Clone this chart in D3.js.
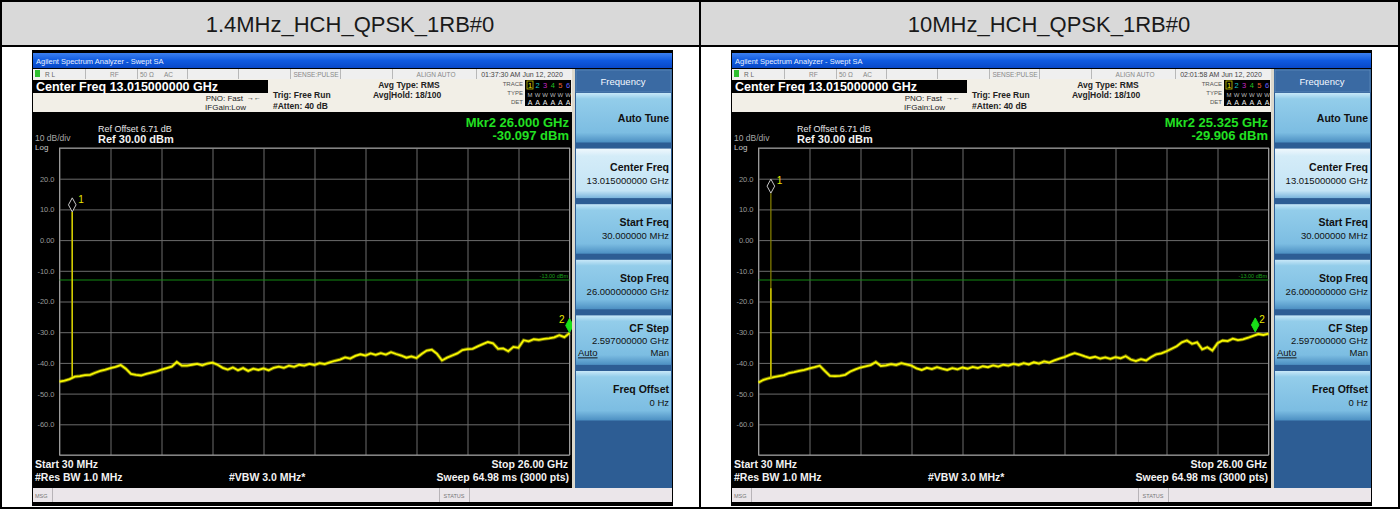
<!DOCTYPE html>
<html>
<head>
<meta charset="utf-8">
<script src="https://cdn.jsdelivr.net/npm/d3@7"></script>
<style>
body { margin: 0; background: #fff; }
text { font-family: "Liberation Sans", Arial, sans-serif; }
</style>
</head>
<body>
<script>
// ---- data ----
var panelTitles = ["1.4MHz_HCH_QPSK_1RB#0", "10MHz_HCH_QPSK_1RB#0"];
var timeStamps = ["01:37:30 AM Jun 12, 2020", "02:01:58 AM Jun 12, 2020"];
var mkr2Freq = [26.000, 25.325];      // GHz
var mkr2Level = [-30.097, -29.906];   // dBm
var mkr1Freq = [0.68, 0.66];          // GHz
var mkr1Level = [9.2, 15.3];          // dBm (top of the carrier spike)
var spikeBright = [9.2, -15.7];       // bright part of the spike
var startFreq = 0.03, stopFreq = 26.0;
var refLevel = 30, bottomLevel = -70;
var limitLevel = -13;
var yTickValues = [20, 10, 0, -10, -20, -30, -40, -50, -60];

// trace points, evenly spaced from 30 MHz to 26 GHz (101 points)
var traceLeft = [
  -46.1, -45.8, -45.3, -44.5, -44.3, -44.0, -43.9, -43.2, -42.6, -42.2,
  -41.7, -41.3, -40.7, -41.9, -43.6, -43.9, -44.1, -43.6, -43.2, -42.8,
  -42.2, -41.7, -41.2, -39.7, -40.9, -40.9, -40.6, -40.3, -40.8, -40.2,
  -39.9, -40.6, -41.6, -42.2, -41.5, -42.4, -41.7, -42.6, -41.9, -42.3,
  -41.8, -42.4, -41.6, -41.2, -41.6, -40.9, -41.3, -40.6, -40.9, -40.3,
  -40.7, -40.1, -40.4, -39.8, -39.3, -38.9, -38.2, -38.6, -37.7, -37.2,
  -37.6, -36.9, -37.4, -36.8, -37.3, -36.5, -37.1, -37.6, -38.3, -37.9,
  -38.4, -37.1, -36.0, -35.7, -37.0, -39.2, -38.3, -37.6, -36.9, -35.8,
  -35.5, -35.4, -34.6, -33.9, -33.2, -33.6, -35.4, -35.3, -36.2, -34.8,
  -35.1, -32.6, -33.0, -32.3, -32.5, -32.2, -32.0, -31.7, -31.0, -31.6,
  -30.3
];
var traceRight = [
  -46.4, -45.5, -45.0, -44.6, -44.3, -44.0, -43.3, -43.0, -42.6, -42.3,
  -41.8, -41.4, -40.9, -42.6, -44.2, -44.3, -44.2, -43.9, -42.8, -42.1,
  -41.5, -41.1, -40.7, -39.7, -41.0, -40.8, -40.4, -40.7, -40.1, -40.5,
  -40.9, -41.8, -42.3, -41.6, -42.0, -41.4, -41.9, -42.3, -41.7, -42.1,
  -41.5, -41.9, -41.3, -41.7, -41.1, -41.4, -40.8, -41.2, -40.6, -40.9,
  -40.3, -40.7, -40.1, -40.5, -39.8, -40.2, -39.5, -39.9, -39.2, -38.6,
  -38.1, -37.4, -36.8, -37.3, -37.9, -38.4, -38.0, -38.6, -38.2, -38.7,
  -38.1, -38.5, -37.8, -38.9, -39.4, -38.8, -39.2, -38.1, -37.2, -36.9,
  -36.2, -35.4, -34.6, -33.3, -32.7, -33.8, -33.3, -35.6, -34.9, -36.0,
  -33.6, -32.7, -32.9, -32.1, -32.6, -32.3, -31.8, -31.2, -30.6, -30.9,
  -30.5
];
var traces = [traceLeft, traceRight];

var softkeyTitles = ["Auto Tune", "Center Freq", "Start Freq", "Stop Freq", "CF Step", "Freq Offset"];
var softkeyValues = ["", "13.015000000 GHz", "30.000000 MHz", "26.000000000 GHz", "2.597000000 GHz", "0 Hz"];
var traceNumbers = ["1", "2", "3", "4", "5", "6"];
var traceColors = ["#e8e800", "#18c8c8", "#c828c8", "#20c020", "#e86030", "#6060ff"];

var width = 1400, height = 509;

var svg = d3.select("body").append("svg")
    .attr("width", width)
    .attr("height", height);

var defs = svg.append("defs");
function grad(id, stops) {
  var lg = defs.append("linearGradient").attr("id", id)
      .attr("x1", 0).attr("y1", 0).attr("x2", 0).attr("y2", 1);
  stops.forEach(function(s) {
    lg.append("stop").attr("offset", s[0]).attr("stop-color", s[1]);
  });
}
grad("titleBar", [[0, "#3d80f0"], [0.5, "#0f5ae0"], [1, "#0848c8"]]);
grad("keyBtn", [[0, "#c8e8f8"], [0.12, "#93cdea"], [0.8, "#7cbde2"], [1, "#4c8fc2"]]);
grad("keySel", [[0, "#f0f8fd"], [0.15, "#d4ecf8"], [0.85, "#c4e4f5"], [1, "#7ab4dc"]]);

// ---- outer table ----
svg.append("rect").attr("x", 1).attr("y", 1).attr("width", width - 2).attr("height", 45)
    .attr("fill", "#d9d9d9");
[[0, 0, width, 2], [0, 45, width, 2], [0, 507, width, 2], [0, 0, 2, height],
 [699, 0, 2, height], [1398, 0, 2, height]].forEach(function(r) {
  svg.append("rect").attr("x", r[0]).attr("y", r[1]).attr("width", r[2]).attr("height", r[3])
      .attr("fill", "#000");
});
panelTitles.forEach(function(t, i) {
  svg.append("text").attr("x", 350 + i * 699).attr("y", 32)
      .attr("text-anchor", "middle").attr("font-size", 22).attr("fill", "#1a1a1a")
      .text(t);
});

// ---- one analyzer screenshot ----
function drawAnalyzer(k) {
  var g = svg.append("g").attr("transform", "translate(" + (k * 699) + ",0)");

  var x = d3.scaleLinear().domain([startFreq, stopFreq]).range([59.5, 569.5]);
  var y = d3.scaleLinear().domain([bottomLevel, refLevel]).range([455, 148]);

  function txt(px, py, s, size, color, opts) {
    opts = opts || {};
    return g.append("text").attr("x", px).attr("y", py)
        .attr("font-size", size).attr("fill", color)
        .attr("font-weight", opts.bold ? "bold" : null)
        .attr("text-anchor", opts.anchor || "start")
        .text(s);
  }

  // frame
  g.append("rect").attr("x", 32).attr("y", 50).attr("width", 641).attr("height", 456).attr("fill", "#000");
  g.append("rect").attr("x", 33).attr("y", 53).attr("width", 639).attr("height", 15).attr("fill", "url(#titleBar)");
  txt(36, 64, "Agilent Spectrum Analyzer - Swept SA", 7.5, "#e8f0ff");

  // status row
  g.append("rect").attr("x", 33).attr("y", 69).attr("width", 539).attr("height", 10).attr("fill", "#efefef");
  [85, 137, 187, 238, 290, 340, 392, 476].forEach(function(dx) {
    g.append("rect").attr("x", dx).attr("y", 69).attr("width", 1).attr("height", 10).attr("fill", "#b8b8b8");
  });
  g.append("rect").attr("x", 35).attr("y", 70).attr("width", 5).attr("height", 7).attr("fill", "#30c030");
  txt(45, 77, "R L", 6.5, "#666");
  txt(110, 77, "RF", 6.5, "#888");
  txt(140, 77, "50 Ω", 6.5, "#888");
  txt(164, 77, "AC", 6.5, "#888");
  txt(316, 77, "SENSE:PULSE", 6.5, "#888", {anchor: "middle"});
  txt(436, 77, "ALIGN AUTO", 6.5, "#888", {anchor: "middle"});
  txt(522, 77, timeStamps[k], 7, "#444", {anchor: "middle"});

  // settings panel
  g.append("rect").attr("x", 33).attr("y", 79).attr("width", 539).attr("height", 33).attr("fill", "#f2efe7");
  g.append("rect").attr("x", 33).attr("y", 80).attr("width", 235).attr("height", 13).attr("fill", "#000");
  txt(36, 91, "Center Freq 13.015000000 GHz", 12.5, "#fff", {bold: true});
  txt(243, 101, "PNO: Fast", 8, "#222", {anchor: "end"});
  txt(247, 100, "→←", 7, "#222");
  txt(246, 110, "IFGain:Low", 8, "#222", {anchor: "end"});
  txt(273, 98, "Trig: Free Run", 8.5, "#222", {bold: true});
  txt(273, 108.5, "#Atten: 40 dB", 8.5, "#222", {bold: true});
  txt(409, 87.5, "Avg Type: RMS", 8.5, "#222", {bold: true, anchor: "middle"});
  txt(373, 98, "Avg|Hold: 18/100", 8.5, "#222", {bold: true});
  txt(523, 86, "TRACE", 6, "#555", {anchor: "end"});
  txt(523, 95, "TYPE", 6, "#555", {anchor: "end"});
  txt(523, 104, "DET", 6, "#555", {anchor: "end"});
  g.append("rect").attr("x", 525).attr("y", 80).attr("width", 46).attr("height", 26).attr("fill", "#000");
  traceNumbers.forEach(function(n, i) {
    var cx = 530 + i * 7.6;
    if (i === 0) {
      g.append("rect").attr("x", cx - 3).attr("y", 81).attr("width", 6).attr("height", 8)
          .attr("fill", "none").attr("stroke", "#c8c800").attr("stroke-width", 0.8);
    }
    txt(cx, 88, n, 7.5, traceColors[i], {anchor: "middle"});
    txt(cx, 96.5, i === 0 ? "M" : "W", 6, "#bbb", {anchor: "middle"});
    txt(cx, 104.5, "A", 7, "#eee", {anchor: "middle"});
  });

  // display
  g.append("rect").attr("x", 33).attr("y", 112).attr("width", 539).attr("height", 376).attr("fill", "#000");
  txt(98, 131.5, "Ref Offset 6.71 dB", 9, "#e6e6e6");
  txt(98, 143, "Ref 30.00 dBm", 11, "#f2f2f2", {bold: true});
  txt(35, 141, "10 dB/div", 8.5, "#a8a8a8");
  txt(35, 149.5, "Log", 8, "#c8c8c8");
  txt(569, 127, "Mkr2 " + mkr2Freq[k].toFixed(3) + " GHz", 13, "#22e022", {bold: true, anchor: "end"});
  txt(569, 140, mkr2Level[k].toFixed(3) + " dBm", 13, "#22e022", {bold: true, anchor: "end"});

  // grid through axes
  var divTicks = d3.range(11).map(function(i) { return startFreq + i * (stopFreq - startFreq) / 10; });
  var xAxis = d3.axisBottom(x).tickValues(divTicks).tickSize(-(455 - 148)).tickFormat("");
  var gx = g.append("g").attr("transform", "translate(0,455)").call(xAxis);
  var yAxis = d3.axisLeft(y).tickValues(d3.range(bottomLevel, refLevel + 1, 10))
      .tickSize(-(569.5 - 59.5)).tickPadding(4)
      .tickFormat(function(v) {
        if (yTickValues.indexOf(v) < 0) return "";
        return v === 0 ? "0.00" : v.toFixed(1);
      });
  var gy = g.append("g").attr("transform", "translate(59.5,0)").call(yAxis);
  [gx, gy].forEach(function(a) {
    a.select(".domain").remove();
    a.selectAll(".tick line").attr("stroke", "#6c6c6c").attr("stroke-width", 1);
  });
  gy.selectAll(".tick text").attr("fill", "#9a9a9a").attr("font-size", 7.5)
      .attr("font-family", "Liberation Sans, Arial, sans-serif").attr("x", -5);
  g.append("rect").attr("x", 59.5).attr("y", 148).attr("width", 510).attr("height", 307)
      .attr("fill", "none").attr("stroke", "#9a9a9a").attr("stroke-width", 1);

  // display line
  g.append("line").attr("x1", x(startFreq)).attr("x2", x(stopFreq))
      .attr("y1", y(limitLevel)).attr("y2", y(limitLevel))
      .attr("stroke", "#138a13").attr("stroke-width", 1);
  txt(568, y(limitLevel) - 2, "-13.00 dBm", 5.5, "#1aa01a", {anchor: "end"});

  // trace
  var data = traces[k];
  var fi = d3.scaleLinear().domain([0, data.length - 1]).range([startFreq, stopFreq]);
  var line = d3.line().x(function(d, i) { return x(fi(i)); }).y(function(d) { return y(d); });
  g.append("path").datum(data).attr("d", line).attr("fill", "none")
      .attr("stroke", "#e0e000").attr("stroke-width", 3.6).attr("stroke-opacity", 0.45);
  g.append("path").datum(data).attr("d", line).attr("fill", "none")
      .attr("stroke", "#f8f800").attr("stroke-width", 1.8);

  // carrier spike
  var sx = x(mkr1Freq[k]);
  var baseIdx = Math.round(fi.invert(mkr1Freq[k]));
  var base = data[baseIdx];
  g.append("line").attr("x1", sx).attr("x2", sx).attr("y1", y(base)).attr("y2", y(mkr1Level[k]))
      .attr("stroke", k === 0 ? "#c8c000" : "#8a8400").attr("stroke-width", 1.2);
  g.append("line").attr("x1", sx).attr("x2", sx).attr("y1", y(base)).attr("y2", y(spikeBright[k]))
      .attr("stroke", "#d4cc00").attr("stroke-width", 1.4);

  // markers
  function diamond(cx, py, fill, stroke) {
    var hw = 3.8, hh = 7;
    g.append("path")
        .attr("d", "M" + cx + "," + py + "L" + (cx + hw) + "," + (py - hh) + "L" + cx + "," + (py - 2 * hh) +
             "L" + (cx - hw) + "," + (py - hh) + "Z")
        .attr("fill", fill).attr("stroke", stroke).attr("stroke-width", 1);
  }
  diamond(sx, y(mkr1Level[k]), "#000", "#c8c8c8");
  txt(sx + 6, y(mkr1Level[k]) - 9, "1", 10, "#e8e800");
  var m2x = x(mkr2Freq[k]);
  diamond(m2x, y(mkr2Level[k]), "#18e018", "#18e018");
  if (k === 0) txt(m2x - 5, y(mkr2Level[k]) - 9, "2", 10, "#e8e800", {anchor: "end"});
  else txt(m2x + 4, y(mkr2Level[k]) - 9, "2", 10, "#e8e800");

  // bottom annotations
  txt(35, 468, "Start 30 MHz", 10.5, "#f2f2f2", {bold: true});
  txt(35, 481, "#Res BW 1.0 MHz", 10.5, "#f2f2f2", {bold: true});
  txt(229, 481, "#VBW 3.0 MHz*", 10.5, "#f2f2f2", {bold: true});
  txt(568, 468, "Stop 26.00 GHz", 10.5, "#f2f2f2", {bold: true, anchor: "end"});
  txt(569, 481, "Sweep  64.98 ms (3000 pts)", 10.5, "#f2f2f2", {bold: true, anchor: "end"});

  // softkey panel
  g.append("rect").attr("x", 572).attr("y", 69).attr("width", 3).attr("height", 419).attr("fill", "#dcd8cc");
  g.append("rect").attr("x", 575).attr("y", 69).attr("width", 97).attr("height", 419).attr("fill", "#2d5d94");
  g.append("rect").attr("x", 576).attr("y", 70).attr("width", 95).attr("height", 22)
      .attr("fill", "#3a6aa3").attr("stroke", "#6a94c4").attr("stroke-width", 0.6);
  txt(623, 84.5, "Frequency", 9.5, "#f4f8ff", {anchor: "middle"});
  softkeyTitles.forEach(function(t, i) {
    var top = 93 + i * 55.6;
    g.append("rect").attr("x", 576).attr("y", top).attr("width", 95).attr("height", 49.5)
        .attr("fill", i === 1 ? "url(#keySel)" : "url(#keyBtn)");
    var v = softkeyValues[i];
    if (!v) {
      txt(669, top + 29, t, 10.5, "#111", {bold: true, anchor: "end"});
    } else if (t === "CF Step") {
      txt(669, top + 17, t, 10.5, "#111", {bold: true, anchor: "end"});
      txt(669, top + 29, v, 9.5, "#111", {anchor: "end"});
      txt(578, top + 41, "Auto", 9.5, "#111").attr("text-decoration", "underline");
      txt(669, top + 41, "Man", 9.5, "#111", {anchor: "end"});
    } else {
      txt(669, top + 22, t, 10.5, "#111", {bold: true, anchor: "end"});
      txt(669, top + 35, v, 9.5, "#111", {anchor: "end"});
    }
  });

  // message bar
  g.append("rect").attr("x", 33).attr("y", 488).attr("width", 639).attr("height", 14).attr("fill", "#ebe6ea");
  [52, 439, 469].forEach(function(dx) {
    g.append("rect").attr("x", dx).attr("y", 488).attr("width", 1).attr("height", 14).attr("fill", "#b8b4b8");
  });
  txt(35, 497.5, "MSG", 5.5, "#777");
  txt(454, 497.5, "STATUS", 5.5, "#777", {anchor: "middle"});
}

drawAnalyzer(0);
drawAnalyzer(1);
</script>
</body>
</html>
